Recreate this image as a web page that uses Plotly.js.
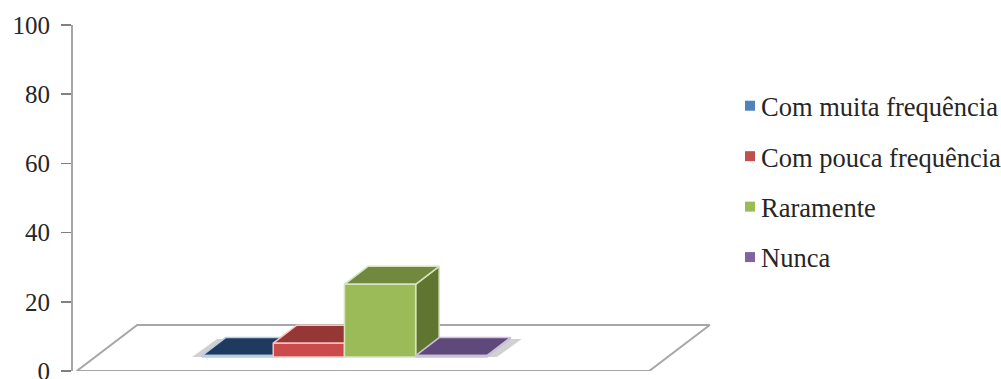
<!DOCTYPE html>
<html>
<head>
<meta charset="utf-8">
<script src="https://cdn.plot.ly/plotly-3.0.1.min.js"></script>
<style>html,body{margin:0;padding:0;background:#fff}</style>
</head>
<body>
<div id="chart" style="width:1001px;height:379px"></div>
<script>
// Responses per frequency category (percent)
const categories = ["Com muita frequência", "Com pouca frequência", "Raramente", "Nunca"];
const values = [0.4, 4, 21, 0.4];
const yTicks = [0, 20, 40, 60, 80, 100];

// Series colours
const legendColors = ["#4f81bd", "#c0504d", "#9bbb59", "#8064a2"];
const frontColors = ["#4f81bd", "#cb4a4c", "#9bbb59", "#8064a2"];
const topColors = ["#1f3a5f", "#953735", "#71893f", "#5f497a"];
const sideColors = ["#2c4d75", "#772c2a", "#5f7530", "#4d3b62"];
const edgeColors = ["#b9cde5", "#f7c4c0", "#d7e4bd", "#ccc1da"];

// Oblique projection of the 3D box: the bars stand on a floor drawn in data units
const barBase = 4.05;
const depthX = 0.33;
const depthY = 5.2;
const floorLeft = -1.76, floorRight = 6.28, floorDepthX = 0.85, floorDepthY = 13.3;

function poly(xs, ys, fill, line, width) {
  return {
    type: "scatter", mode: "lines", x: xs.concat(xs[0]), y: ys.concat(ys[0]),
    fill: "toself", fillcolor: fill,
    line: {color: line, width: width, simplify: false},
    hoverinfo: "skip", showlegend: false, cliponaxis: false
  };
}

const traces = [];

// Floor
traces.push(poly(
  [floorLeft, floorRight, floorRight + floorDepthX, floorLeft + floorDepthX],
  [0, 0, floorDepthY, floorDepthY], "#ffffff", "#a6a6a6", 2));

// Soft shadows beside the two flattest bars
const shadow = "rgba(90,90,90,0.28)";
traces.push(poly([-0.14, 0, depthX, depthX - 0.12],
  [barBase, barBase, barBase + depthY, barBase + depthY], shadow, "rgba(0,0,0,0)", 0));
traces.push(poly([4, 4.14, 4 + depthX + 0.16, 4 + depthX],
  [barBase, barBase, barBase + depthY, barBase + depthY], shadow, "rgba(0,0,0,0)", 0));

// Bars, left to right so nearer faces cover the hidden parts
categories.forEach((name, i) => {
  const x0 = i, x1 = i + 1, y0 = barBase, y1 = barBase + values[i];
  traces.push(poly([x1, x1 + depthX, x1 + depthX, x1],
    [y0, y0 + depthY, y1 + depthY, y1], sideColors[i], edgeColors[i], 1.5));
  traces.push(poly([x0, x1, x1 + depthX, x0 + depthX],
    [y1, y1, y1 + depthY, y1 + depthY], topColors[i], edgeColors[i], 1.5));
  traces.push(poly([x0, x1, x1, x0], [y0, y0, y1, y1], frontColors[i], edgeColors[i], 1.5));
});

// Legend entries
categories.forEach((name, i) => {
  traces.push({
    type: "scatter", mode: "markers", x: [null], y: [null], name: name,
    legendgroup: "g" + i, hoverinfo: "skip",
    marker: {symbol: "square", size: 10, color: legendColors[i]}
  });
});

const layout = {
  width: 1001, height: 379,
  margin: {l: 73, r: 0, t: 25, b: 8, pad: 0, autoexpand: false},
  paper_bgcolor: "#ffffff", plot_bgcolor: "#ffffff",
  font: {family: '"Liberation Serif", serif', color: "#262626"},
  showlegend: true,
  legend: {
    xref: "container", yref: "container", x: 721 / 1001, y: 1 - 82 / 379,
    xanchor: "left", yanchor: "top", tracegroupgap: 13, maxheight: 300,
    font: {size: 26.5, family: '"Liberation Serif", serif', color: "#262626"},
    bgcolor: "rgba(0,0,0,0)", itemclick: false, itemdoubleclick: false
  },
  xaxis: {
    range: [-1.812, 11.22], visible: false, fixedrange: true
  },
  yaxis: {
    range: [0, 100], tickmode: "array", tickvals: yTicks, ticks: "outside",
    ticklen: 10, tickwidth: 1.5, tickcolor: "#808080", ticklabelstandoff: 6,
    ticklabeloverflow: "allow",
    showgrid: false, zeroline: false, showline: true, linecolor: "#a6a6a6", linewidth: 2,
    tickfont: {size: 25, family: '"Liberation Serif", serif', color: "#262626"},
    fixedrange: true
  }
};

Plotly.newPlot("chart", traces, layout, {displayModeBar: false, staticPlot: true}).then(() => {
  // Bring the legend swatches closer to their labels
  document.querySelectorAll("#chart .legendsymbols").forEach(el => {
    el.setAttribute("transform", "translate(9,0)");
  });
});
</script>
</body>
</html>
